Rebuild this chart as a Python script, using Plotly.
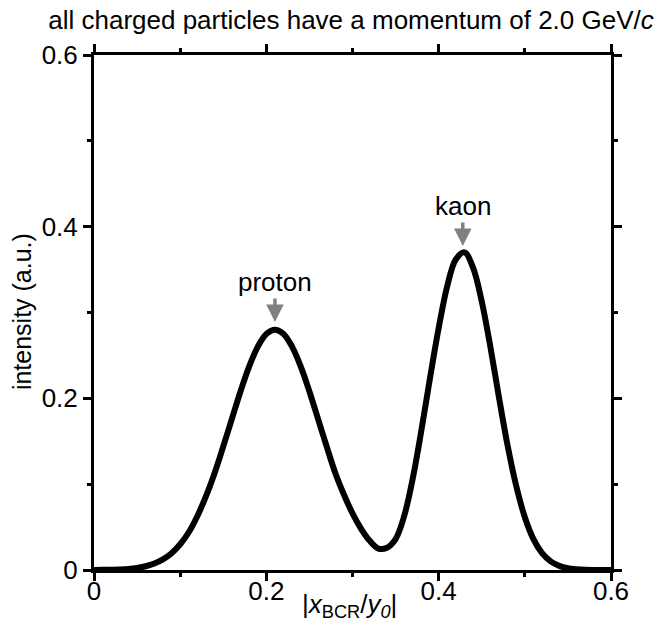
import plotly.graph_objects as go

x_vals = [round(0.01 * i, 2) for i in range(61)]
y_vals = [0.0001, 0.0002, 0.0004, 0.0007, 0.0013, 0.0025, 0.0044, 0.0075, 0.0123, 0.0195,
          0.030, 0.044, 0.063, 0.086, 0.113, 0.144, 0.176, 0.208, 0.237, 0.260,
          0.275, 0.280, 0.275, 0.260, 0.237, 0.208, 0.176, 0.144, 0.113, 0.088,
          0.066, 0.048, 0.034, 0.025, 0.026, 0.036, 0.063, 0.107, 0.163, 0.224,
          0.282, 0.331, 0.362, 0.370, 0.352, 0.313, 0.260, 0.201, 0.145, 0.098,
          0.0615, 0.036, 0.0197, 0.0101, 0.0048, 0.0021, 0.0009, 0.0003, 0.0001, 0.0,
          0.0]

peak_labels = ["proton", "kaon"]
peak_x = [0.21, 0.428]
arrow_tip_y = [0.289, 0.3775]

FONT = "Liberation Sans, Arial, Helvetica, sans-serif"

fig = go.Figure()
fig.add_trace(go.Scatter(x=x_vals, y=y_vals, mode="lines",
                         line=dict(color="black", width=6, shape="spline", smoothing=1),
                         showlegend=False, hoverinfo="skip"))

axis_common = dict(
    range=[0, 0.6], dtick=0.2, tick0=0,
    showline=True, linecolor="black", linewidth=3, mirror="ticks",
    ticks="outside", ticklen=8, tickwidth=3, tickcolor="black",
    minor=dict(ticks="outside", ticklen=4, tickwidth=3, tickcolor="black", dtick=0.1, tick0=0),
    showgrid=False, zeroline=False,
    tickfont=dict(family=FONT, size=26, color="black"),
)
fig.update_xaxes(**axis_common, ticklabelstandoff=-12)
fig.update_yaxes(**axis_common)

annotations = []
for lab, px, ty in zip(peak_labels, peak_x, arrow_tip_y):
    annotations.append(dict(x=px, y=ty, xref="x", yref="y", text=lab, showarrow=True,
                            ax=0, ay=-40, arrowhead=2, arrowsize=1, arrowwidth=3.5,
                            arrowcolor="#808080", standoff=0,
                            font=dict(family=FONT, size=26, color="black")))

annotations.append(dict(x=0.495, y=-0.068, xref="paper", yref="paper",
                        text="|<i>x</i><sub>BCR</sub>/<i>y<sub>0</sub></i>|",
                        showarrow=False, xanchor="center", yanchor="middle",
                        font=dict(family=FONT, size=26, color="black")))
annotations.append(dict(x=-0.139, y=0.501, xref="paper", yref="paper",
                        text="intensity (a.u.)", textangle=-90,
                        showarrow=False, xanchor="center", yanchor="middle",
                        font=dict(family=FONT, size=25, color="black")))

fig.update_layout(
    width=661, height=637,
    margin=dict(l=94, r=50, t=55, b=67),
    paper_bgcolor="white", plot_bgcolor="white",
    title=dict(text="all charged particles have a momentum of 2.0 GeV/<i>c</i>",
               x=351 / 661, xref="container", xanchor="center",
               y=1 - 20 / 637, yref="container", yanchor="middle",
               font=dict(family=FONT, size=26, color="black")),
    annotations=annotations,
)

fig.write_html("out.html")
